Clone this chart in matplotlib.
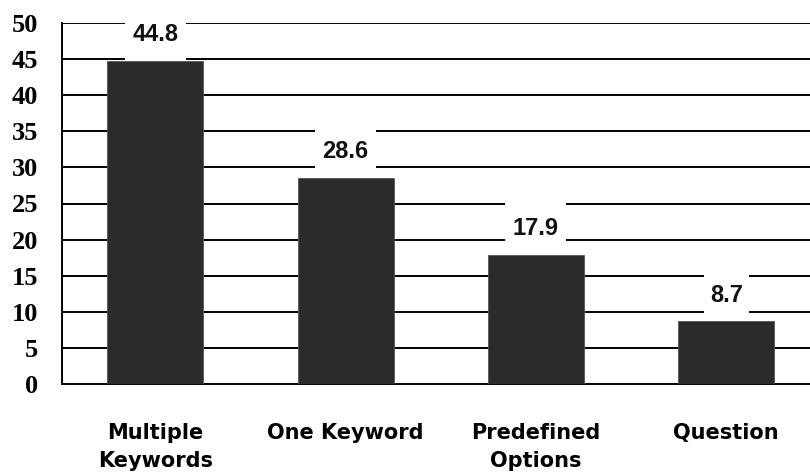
import matplotlib.pyplot as plt
import numpy as np

# data
categories = ['Multiple\nKeywords', 'One Keyword', 'Predefined\nOptions', 'Question']
values = [44.8, 28.6, 17.9, 8.7]
yticks = [0, 5, 10, 15, 20, 25, 30, 35, 40, 45, 50]

fig = plt.figure(figsize=(8.1, 4.74), dpi=100)
ax = fig.add_axes([62 / 810, 90 / 474, 1 - 62 / 810, 361 / 474])

x = np.arange(len(categories))

# horizontal grid lines
for yv in yticks[1:]:
    ax.axhline(yv, color='black', linewidth=1.4, zorder=1)

ax.bar(x, values, width=0.505, color='#2b2b2b', edgecolor='#555555',
       linewidth=0.6, zorder=3)

# value labels sit in white boxes that break the grid lines
labels = [f'{v:.1f}' for v in values]
label_y = [v + 3.6 for v in values]
box_w = [0.085 * len(s) - 0.02 for s in labels]
ax.bar(x, 7.6, bottom=[ly - 3.8 for ly in label_y], width=box_w,
       color='white', zorder=2)
for xi, ly, s in zip(x, label_y, labels):
    ax.text(xi, ly, s, ha='center', va='center', fontsize=17,
            fontweight='bold', family='Liberation Sans', color='#111111',
            zorder=4)

ax.set_xlim(-0.49, 3.44)
ax.set_ylim(0, 50)
ax.set_yticks(yticks)
ax.set_yticklabels([str(t) for t in yticks], fontsize=19, fontweight='bold',
                   family='Liberation Serif')
ax.set_xticks(x)
ax.set_xticklabels(categories, fontsize=15, fontweight='bold',
                   family='DejaVu Sans', linespacing=1.5)

ax.tick_params(axis='y', length=0, pad=17)
ax.tick_params(axis='x', length=0, pad=28)

for side in ['top', 'right']:
    ax.spines[side].set_visible(False)
ax.spines['left'].set_linewidth(1.4)
ax.spines['bottom'].set_linewidth(1.4)

plt.savefig('out.png', dpi=100)
